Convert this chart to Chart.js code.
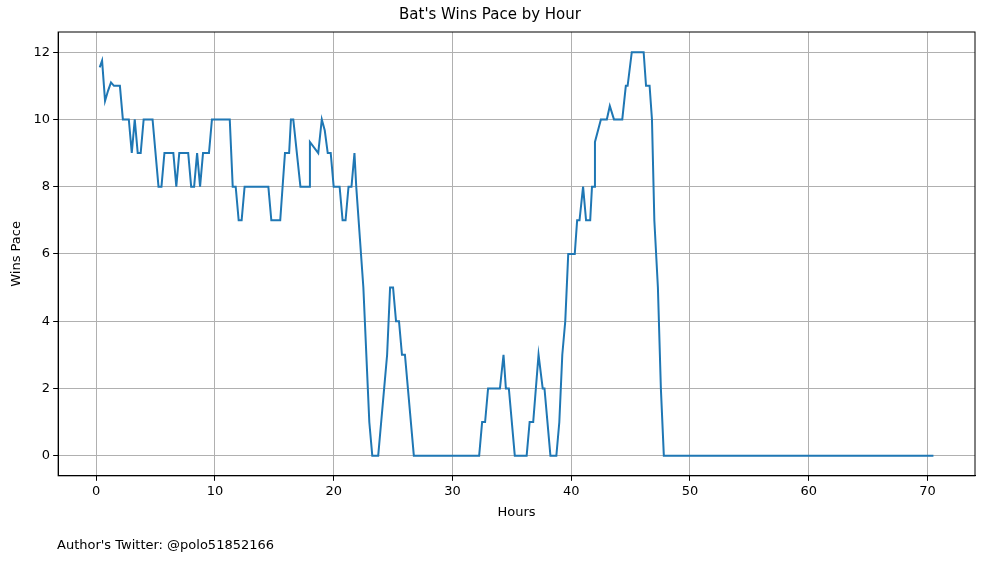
<!DOCTYPE html>
<html><head><meta charset="utf-8">
<script src="https://cdn.jsdelivr.net/npm/chart.js@4"></script>
<style>html,body{margin:0;background:#fff}#w{width:997px;height:562px;position:relative}
#note{position:absolute;left:57px;top:537px;font:13px "DejaVu Sans";color:#000}</style>
</head><body><div id="w"><canvas id="c" width="997" height="562"></canvas><div id="note">Author's Twitter: @polo51852166</div></div>
<script>
const hours = [0.3,0.5,0.75,1.0,1.25,1.5,2.0,2.25,2.75,3.0,3.25,3.5,3.75,4.0,4.75,5.25,5.5,5.75,6.5,6.75,7.0,7.75,8.0,8.25,8.5,8.75,9.0,9.5,9.75,11.25,11.5,11.75,12.0,12.25,12.5,14.5,14.75,15.5,15.9,16.25,16.4,16.6,17.2,18.0,18.0,18.7,19.0,19.25,19.5,19.75,20.0,20.5,20.75,21.0,21.25,21.5,21.75,21.9,22.5,22.75,23.0,23.25,23.75,24.0,24.25,24.5,24.75,25.0,25.25,25.5,25.75,26.0,26.75,32.25,32.5,32.75,33.0,34.0,34.3,34.5,34.75,35.25,36.25,36.5,36.8,37.25,37.6,37.75,38.25,38.75,39.0,39.25,39.5,39.75,40.3,40.5,40.7,41.0,41.25,41.6,41.75,42.0,42.0,42.5,43.0,43.25,43.6,44.3,44.6,44.75,45.1,46.1,46.3,46.6,46.8,47.0,47.3,47.55,47.8,70.5];
const pace = [11.55,11.75,10.55,10.85,11.1,11.0,11.0,10.0,10.0,9.0,10.0,9.0,9.0,10.0,10.0,8.0,8.0,9.0,9.0,8.0,9.0,9.0,8.0,8.0,9.0,8.0,9.0,9.0,10.0,10.0,8.0,8.0,7.0,7.0,8.0,8.0,7.0,7.0,9.0,9.0,10.0,10.0,8.0,8.0,9.33,9.0,10.0,9.67,9.0,9.0,8.0,8.0,7.0,7.0,8.0,8.0,9.0,8.0,5.0,3.0,1.0,0,0,1.0,2.0,3.0,5.0,5.0,4.0,4.0,3.0,3.0,0,0,1,1,2,2,3,2,2,0,0,1,1,3,2,2,0,0,1,3,4,6,6,7,7,8,7,7,8,8,9.33,10,10,10.4,10,10,11,11,12,12,11,11,10,7,5,2,0,0];
const xTicks = [0,10,20,30,40,50,60,70];
const yTicks = [0,2,4,6,8,10,12];
const F = {family:"DejaVu Sans", size:13};
const frame = {id:'frame',afterDraw(c){const a=c.chartArea,x=c.ctx;x.save();x.strokeStyle='#000';x.lineWidth=1;x.strokeRect(a.left,a.top,a.right-a.left,a.bottom-a.top);x.restore();}};
new Chart(document.getElementById('c'), {
  type:'line',
  data:{datasets:[{data:hours.map((h,i)=>({x:h,y:pace[i]})),borderColor:'#1f77b4',borderWidth:2,pointRadius:0,tension:0}]},
  options:{responsive:false,animation:false,
    layout:{padding:{left:5,right:22,top:0,bottom:38}},
    plugins:{legend:{display:false},tooltip:{enabled:false},
      title:{display:true,text:"Bat's Wins Pace by Hour",color:'#000',font:{family:"DejaVu Sans",size:15,weight:'normal'},padding:{top:6,bottom:8}}},
    scales:{
      x:{type:'linear',min:-3.2,max:74,afterBuildTicks:a=>{a.ticks=xTicks.map(v=>({value:v}))},
        grid:{color:'#b0b0b0',lineWidth:1,tickColor:'#000',tickLength:5},border:{color:'#000'},
        ticks:{color:'#000',font:F,maxRotation:0},
        title:{display:true,text:'Hours',color:'#000',font:F,padding:{top:2}}},
      y:{min:-0.6,max:12.6,afterBuildTicks:a=>{a.ticks=yTicks.map(v=>({value:v}))},
        grid:{color:'#b0b0b0',lineWidth:1,tickColor:'#000',tickLength:5},border:{color:'#000'},
        ticks:{color:'#000',font:F},
        title:{display:true,text:'Wins Pace',color:'#000',font:F,padding:{bottom:6}}}
    }},
  plugins:[frame]
});
</script></body></html>
